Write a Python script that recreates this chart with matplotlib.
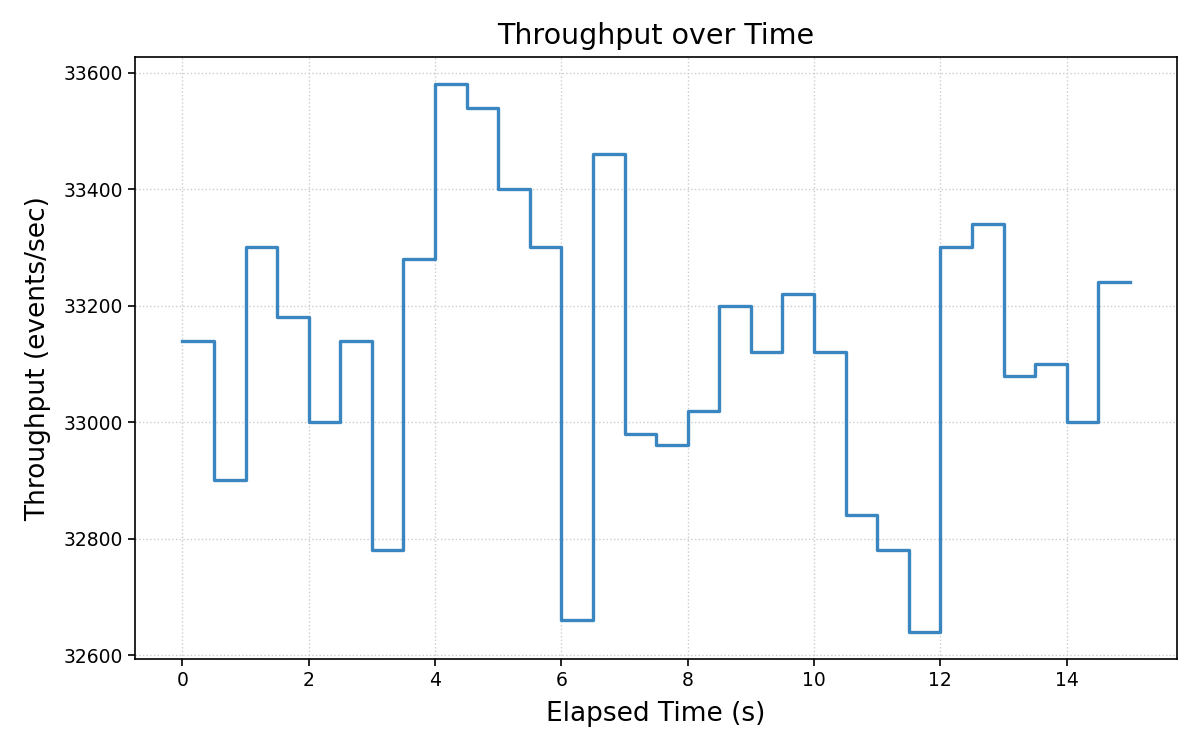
import matplotlib
matplotlib.use("Agg")
import matplotlib.pyplot as plt
import numpy as np

time_s = [0.0, 0.5, 1.0, 1.5, 2.0, 2.5, 3.0, 3.5, 4.0, 4.5, 5.0, 5.5, 6.0, 6.5, 7.0, 7.5,
          8.0, 8.5, 9.0, 9.5, 10.0, 10.5, 11.0, 11.5, 12.0, 12.5, 13.0, 13.5, 14.0, 14.5, 15.0]
throughput = [33140, 32900, 33300, 33180, 33000, 33140, 32780, 33280, 33580, 33540, 33400,
              33300, 32660, 33460, 32980, 32960, 33020, 33200, 33120, 33220, 33120, 32840,
              32780, 32640, 33300, 33340, 33080, 33100, 33000, 33240, 33240]

fig, ax = plt.subplots(figsize=(12, 7.5), dpi=100)
ax.step(time_s, throughput, where="post", color="#3a86c0", linewidth=2.4)
ax.set_title("Throughput over Time", fontsize=20.5, pad=9)
ax.set_xlabel("Elapsed Time (s)", fontsize=19, labelpad=8)
ax.set_ylabel("Throughput (events/sec)", fontsize=19, labelpad=9)
ax.set_xticks(np.arange(0, 15, 2))
ax.set_yticks(np.arange(32600, 33601, 200))
ax.tick_params(labelsize=13.5, width=1.2, length=5)
for s in ax.spines.values():
    s.set_linewidth(1.2)
ax.grid(True, linestyle=":", color="#cccccc", linewidth=1)
ax.set_xlim(-0.75, 15.75)
ax.set_ylim(32593, 33627)
fig.subplots_adjust(left=0.1125, right=0.981, top=0.924, bottom=0.121)
fig.savefig("out.png", dpi=100)
